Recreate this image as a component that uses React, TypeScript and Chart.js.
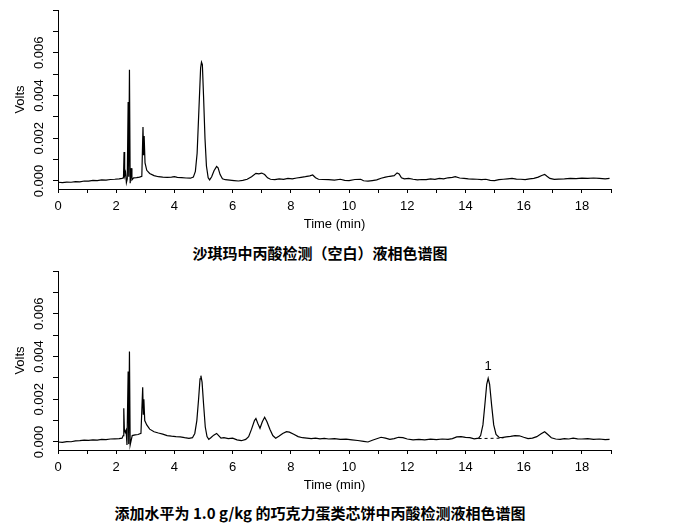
import React, { useEffect, useRef } from 'react';
import { Chart, registerables } from 'chart.js';

Chart.register(...registerables);

const FONT = '"Liberation Sans", Arial, sans-serif';

// Blank sample (top chromatogram)
const blankTimes = [
  0.0, 0.15, 0.3, 0.45, 0.6, 0.75, 0.9, 1.05, 1.2, 1.35, 1.5, 1.65, 1.8, 1.95, 2.1, 2.2, 2.25,
  2.27, 2.29, 2.32, 2.35, 2.38, 2.41, 2.43, 2.455, 2.48, 2.51, 2.54, 2.6, 2.7, 2.8, 2.88,
  2.92, 2.94, 2.96, 2.99, 3.05, 3.15, 3.3, 3.45, 3.6, 3.75, 3.9, 4.0, 4.1, 4.25, 4.4, 4.55,
  4.65, 4.72, 4.78, 4.84, 4.9, 4.93, 4.96, 5.0, 5.05, 5.1, 5.16, 5.21, 5.28, 5.36, 5.45, 5.5,
  5.57, 5.65, 5.75, 5.9, 6.05, 6.2, 6.35, 6.5, 6.65, 6.8, 6.9, 7.0, 7.1, 7.2, 7.3, 7.45, 7.6,
  7.75, 7.9, 8.05, 8.2, 8.35, 8.5, 8.65, 8.75, 8.85, 8.95, 9.1, 9.3, 9.5, 9.7, 9.85, 10.0,
  10.2, 10.4, 10.5, 10.65, 10.8, 10.95, 11.1, 11.25, 11.4, 11.55, 11.65, 11.72, 11.8, 11.9,
  12.05, 12.2, 12.35, 12.5, 12.65, 12.8, 12.95, 13.1, 13.25, 13.4, 13.55, 13.65, 13.8, 13.95,
  14.1, 14.25, 14.4, 14.55, 14.7, 14.85, 15.0, 15.15, 15.3, 15.45, 15.6, 15.75, 15.9, 16.05,
  16.2, 16.35, 16.5, 16.62, 16.72, 16.8, 16.9, 17.05, 17.2, 17.4, 17.6, 17.8, 18.0, 18.2,
  18.4, 18.6, 18.8, 18.95,
];
const blankVolts = [
  -0.00006, -0.00008, -0.00005, -0.00006, -0.00003, -0.00004, 0.0, -0.00001, 0.00003, 0.00002,
  0.00005, 0.00004, 0.00007, 0.00008, 0.0001, 0.00012, 0.00015,
  0.00136, 0.00025, 0.0004, -0.00008, 0.0001, 0.0037, 0.0002, 0.0052, -0.0001, 0.0006, 0.00005,
  0.00015, 0.00016, 0.00018, 0.00022,
  0.00253, 0.0012, 0.0021, 0.00085, 0.0005, 0.00035, 0.00025, 0.0002, 0.00018, 0.00017,
  0.00018, 0.0002, 0.00017, 0.00016, 0.00014, 0.00013,
  0.00018, 0.00045, 0.0013, 0.0033, 0.0053, 0.00556, 0.00545, 0.004, 0.002, 0.0007, 0.00015,
  0.00005, 0.0002, 0.00048, 0.00068, 0.00062,
  0.0003, 0.0001, 0.00006, 0.00004, 0.00002, 0.0, 0.00003, 0.00008, 0.0002, 0.00036, 0.00033,
  0.00037, 0.0003, 0.00015, 0.00008, 0.00006, 0.0001,
  0.00008, 0.00012, 0.0001, 0.00014, 0.00017, 0.0002, 0.00024, 0.00028, 0.00015, 0.00008,
  0.00007, 0.00006, 0.00004, 0.00008, 0.00003, 0.00002,
  0.00007, 0.00008, 0.00001, -0.00001, 0.00002, 0.00005, 0.00013, 0.00018, 0.00022, 0.00025,
  0.00038, 0.00033, 0.00015, 0.0001,
  0.00012, 0.00008, 0.00005, 0.00007, 0.00006, 0.0001, 0.00008, 0.00012, 0.0001, 0.00015,
  0.00017, 0.0002, 0.00014, 0.00012,
  0.0001, 0.00009, 0.00008, 0.00006, 0.00008, 0.00003, 0.00002, 0.00006, 0.00008, 0.0001,
  0.00012, 0.00009, 0.00008, 0.00006,
  0.0001, 0.00012, 0.00018, 0.00026, 0.00031, 0.00022, 0.00012, 0.00008, 0.00009, 0.0001,
  0.00012, 0.00011, 0.00013, 0.00012,
  0.00014, 0.00012, 0.0001, 0.00012,
];

// Spiked sample (bottom chromatogram)
const spikedTimes = [
  0.0, 0.15, 0.3, 0.45, 0.6, 0.75, 0.9, 1.05, 1.2, 1.35, 1.5, 1.65, 1.8, 1.95, 2.1, 2.2, 2.24,
  2.26, 2.28, 2.31, 2.34, 2.37, 2.41, 2.43, 2.455, 2.48, 2.51, 2.55, 2.65, 2.75, 2.85,
  2.91, 2.93, 2.95, 2.98, 3.05, 3.15, 3.3, 3.45, 3.6, 3.75, 3.9, 4.05, 4.2, 4.35, 4.5,
  4.62, 4.7, 4.77, 4.83, 4.88, 4.91, 4.95, 5.0, 5.06, 5.12, 5.18, 5.25, 5.35, 5.45, 5.52,
  5.6, 5.7, 5.85, 6.0, 6.15, 6.3, 6.45, 6.55, 6.65, 6.75, 6.8, 6.87, 6.94, 7.02, 7.1, 7.18,
  7.28, 7.38, 7.48, 7.6, 7.72, 7.85, 7.95, 8.1, 8.25, 8.4, 8.55, 8.7, 8.85, 9.0, 9.15, 9.3,
  9.5, 9.7, 9.9, 10.1, 10.3, 10.5, 10.65, 10.8, 10.95, 11.1, 11.25, 11.4, 11.55, 11.7, 11.85,
  12.0, 12.2, 12.4, 12.6, 12.8, 13.0, 13.2, 13.4, 13.55, 13.7, 13.85, 14.0, 14.15, 14.3,
  14.45, 14.52, 14.6, 14.67, 14.73, 14.78, 14.83, 14.9, 14.97, 15.05, 15.15, 15.25, 15.4,
  15.55, 15.7, 15.85, 16.0, 16.15, 16.3, 16.45, 16.6, 16.72, 16.82, 16.95, 17.1, 17.25, 17.4,
  17.55, 17.7, 17.85, 18.0, 18.2, 18.4, 18.6, 18.8, 18.95,
];
const spikedVolts = [
  0.0, -0.00002, 0.00002, 0.00001, 0.00005, 0.00006, 0.00009, 0.00008, 0.0001, 0.00009,
  0.00012, 0.00011, 0.00014, 0.00015, 0.00016, 0.00018, 0.0003,
  0.00158, 0.0006, 0.00045, 0.00055, -0.00014, 0.0033, -0.0001, 0.00423, -0.00014, 0.00005,
  0.0003, 0.00033, 0.00035, 0.0004,
  0.00256, 0.0013, 0.002, 0.001, 0.0008, 0.0006, 0.00048, 0.00042, 0.00037, 0.0003, 0.00027,
  0.00025, 0.00024, 0.0002, 0.00017,
  0.0002, 0.0004, 0.001, 0.002, 0.00295, 0.0031, 0.0028, 0.0018, 0.0007, 0.00025, 0.00012,
  0.0002, 0.00032, 0.0004, 0.0003,
  0.00018, 0.0002, 0.00016, 0.00018, 0.0001, 0.00006, 0.00012, 0.00025, 0.0006, 0.001,
  0.0011, 0.00085, 0.00064, 0.00095, 0.00116, 0.00095,
  0.0006, 0.0003, 0.00018, 0.00028, 0.0004, 0.00048, 0.00046, 0.00036, 0.00025, 0.0002,
  0.00018, 0.00016, 0.00018, 0.00015, 0.00017, 0.00014,
  0.00016, 0.00012, 0.00013, 0.0001, 0.00007, 0.00003, 0.0, 0.00008, 0.00015, 0.00022,
  0.00018, 0.00012, 0.00016, 0.00022, 0.0002,
  0.00014, 0.0001, 0.00012, 0.0001, 0.00013, 0.00011, 0.00014, 0.00012, 0.00016, 0.00024,
  0.00025, 0.00022, 0.0002, 0.00015,
  0.00018, 0.0003, 0.0008, 0.0018, 0.0027, 0.00298, 0.0027, 0.0017, 0.0008, 0.00035,
  0.00022, 0.0002, 0.00024,
  0.00026, 0.0003, 0.00029, 0.00022, 0.00016, 0.00018, 0.00025, 0.00038, 0.00048, 0.00036,
  0.0002, 0.00014, 0.00012, 0.00016,
  0.00014, 0.00018, 0.00015, 0.00014, 0.00016, 0.00012, 0.00014, 0.00011, 0.00012,
];

// Integration baseline under peak 1 (dashed)
const baselineTimes = [14.45, 15.3];
const baselineVolts = [0.00016, 0.00018];

// Peak labels
const peakNames = ['1'];
const peakTimes = [14.78];
const peakVolts = [0.00298];

// Axis ranges and labelled ticks
const yMin = -0.000375;
const yMax = 0.008;
const yLabels = ['0.000', '0.002', '0.004', '0.006'];
const xMin = 0;
const xMax = 19;
const xLabels = ['0', '2', '4', '6', '8', '10', '12', '14', '16', '18'];

const captionTop = '沙琪玛中丙酸检测（空白）液相色谱图';
const captionBottom = '添加水平为 1.0 g/kg 的巧克力蛋类芯饼中丙酸检测液相色谱图';

const peakLabelPlugin = {
  id: 'peakLabels',
  afterDatasetsDraw(chart: any) {
    const cfg = chart.options.plugins.peakLabels || {};
    const names: string[] = cfg.names || [];
    const times: number[] = cfg.times || [];
    const volts: number[] = cfg.volts || [];
    const ctx = chart.ctx;
    ctx.save();
    ctx.fillStyle = '#000';
    ctx.font = `13px ${FONT}`;
    ctx.textAlign = 'center';
    ctx.textBaseline = 'bottom';
    names.forEach((n, i) => {
      const x = chart.scales.x.getPixelForValue(times[i]);
      const y = chart.scales.y.getPixelForValue(volts[i]);
      ctx.fillText(n, x, y - 5);
    });
    ctx.restore();
  },
};

function Chromatogram(props: {
  times: number[];
  volts: number[];
  baseT?: number[];
  baseV?: number[];
  peaks?: { names: string[]; times: number[]; volts: number[] };
}) {
  const ref = useRef<HTMLCanvasElement | null>(null);
  useEffect(() => {
    if (!ref.current) return;
    const datasets: any[] = [
      {
        data: props.times.map((t, i) => ({ x: t, y: props.volts[i] })),
        borderColor: '#000',
        borderWidth: 1.2,
        pointRadius: 0,
        tension: 0,
        fill: false,
      },
    ];
    if (props.baseT && props.baseV) {
      datasets.push({
        data: props.baseT.map((t, i) => ({ x: t, y: props.baseV![i] })),
        borderColor: '#000',
        borderWidth: 1,
        borderDash: [3, 3],
        pointRadius: 0,
        fill: false,
      });
    }
    const tickFont = { family: FONT, size: 13 };
    const chart = new Chart(ref.current, {
      type: 'line',
      data: { datasets },
      plugins: [peakLabelPlugin],
      options: {
        animation: false,
        responsive: false,
        maintainAspectRatio: false,
        events: [],
        layout: { padding: { left: 0, right: 76, top: 10, bottom: 0 } },
        plugins: {
          legend: { display: false },
          tooltip: { enabled: false },
          peakLabels: props.peaks || { names: [], times: [], volts: [] },
        } as any,
        scales: {
          x: {
            type: 'linear',
            min: xMin,
            max: xMax,
            afterFit: (s: any) => {
              s.height = 46;
            },
            ticks: {
              stepSize: 1,
              autoSkip: false,
              maxRotation: 0,
              color: '#000',
              padding: 6,
              font: tickFont,
              callback: (v: any) => {
                const s = String(Math.round(Number(v)));
                return xLabels.includes(s) ? s : '';
              },
            },
            grid: { drawOnChartArea: false, drawTicks: true, tickLength: 4, color: '#000' },
            border: { display: true, color: '#000', width: 1 },
            title: {
              display: true,
              text: 'Time (min)',
              color: '#000',
              font: tickFont,
              padding: { top: 0, bottom: 3 },
            },
          },
          y: {
            type: 'linear',
            min: yMin,
            max: yMax,
            afterFit: (s: any) => {
              s.width = 58;
            },
            ticks: {
              stepSize: 0.001,
              includeBounds: false,
              autoSkip: false,
              minRotation: 90,
              maxRotation: 90,
              crossAlign: 'center',
              padding: -3,
              color: '#000',
              font: tickFont,
              callback: (v: any) => {
                const s = (Math.round(Number(v) * 1000) / 1000).toFixed(3);
                return yLabels.includes(s) ? s : '';
              },
            },
            grid: { drawOnChartArea: false, drawTicks: true, tickLength: 5, color: '#000' },
            border: { display: true, color: '#000', width: 1 },
            title: {
              display: true,
              text: 'Volts',
              color: '#000',
              font: tickFont,
              padding: { top: 13, bottom: 0 },
            },
          },
        },
      } as any,
    });
    return () => chart.destroy();
  }, []);
  return <canvas ref={ref} width={687} height={235} style={{ width: 687, height: 235, display: 'block' }} />;
}

const captionStyle: React.CSSProperties = {
  position: 'absolute',
  left: 0,
  width: 640,
  textAlign: 'center',
  fontFamily: '"Noto Sans CJK SC", sans-serif',
  fontWeight: 'bold',
  fontSize: 15,
  lineHeight: '20px',
  color: '#000',
  whiteSpace: 'nowrap',
};

export default function App() {
  return (
    <div style={{ position: 'absolute', left: 0, top: 0, width: 687, height: 525, background: '#fff', overflow: 'hidden' }}>
      <div style={{ position: 'absolute', left: 0, top: 0 }}>
        <Chromatogram times={blankTimes} volts={blankVolts} />
      </div>
      <div style={{ ...captionStyle, top: 243 }}>{captionTop}</div>
      <div style={{ position: 'absolute', left: 0, top: 261 }}>
        <Chromatogram
          times={spikedTimes}
          volts={spikedVolts}
          baseT={baselineTimes}
          baseV={baselineVolts}
          peaks={{ names: peakNames, times: peakTimes, volts: peakVolts }}
        />
      </div>
      <div style={{ ...captionStyle, top: 503 }}>{captionBottom}</div>
    </div>
  );
}
